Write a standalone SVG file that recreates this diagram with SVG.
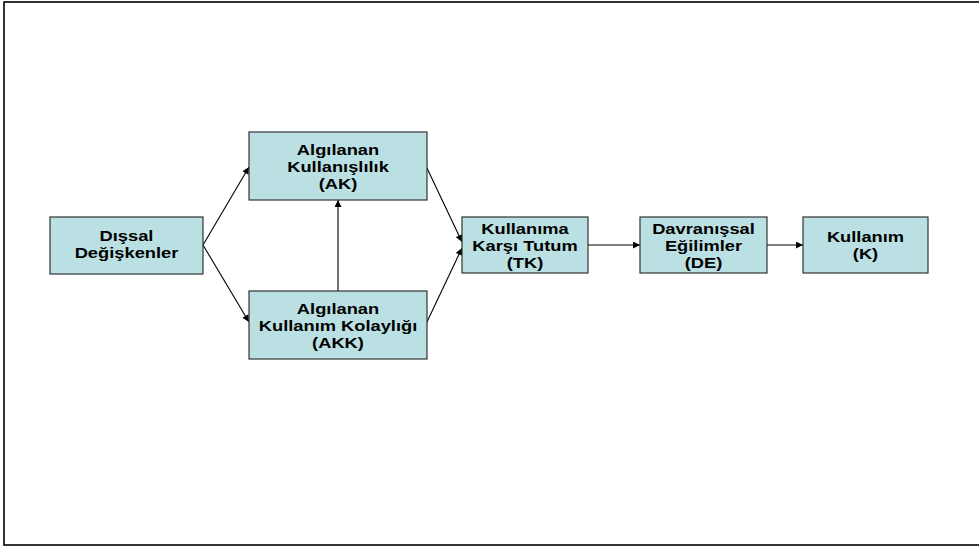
<svg xmlns="http://www.w3.org/2000/svg" width="979" height="546" viewBox="0 0 979 546">
<defs>
<style>
.box{fill:#BBE0E3;stroke:#333;stroke-width:1.2}
.lbl{font-family:"Liberation Sans",Arial,sans-serif;font-weight:bold;font-size:15px;fill:#000;text-anchor:middle}
.conn{stroke:#000;stroke-width:1.1;fill:none;marker-end:url(#ah)}
</style>
<marker id="ah" viewBox="0 0 10 10" refX="10" refY="5" markerUnits="userSpaceOnUse" markerWidth="8" markerHeight="7" orient="auto">
<path d="M0,0 L10,5 L0,10 Z" fill="#000"/>
</marker>
</defs>
<rect x="0" y="0" width="979" height="546" fill="#fff"/>
<rect x="4" y="2" width="990" height="543" fill="none" stroke="#000" stroke-width="1.6"/>
<g id="connectors">
<line class="conn" x1="203" y1="245" x2="249" y2="167"/>
<line class="conn" x1="203" y1="245" x2="249" y2="322"/>
<line class="conn" x1="338" y1="291" x2="338" y2="200"/>
<line class="conn" x1="426" y1="166" x2="462" y2="242"/>
<line class="conn" x1="426" y1="324" x2="462" y2="248"/>
<line class="conn" x1="588" y1="245" x2="640" y2="245"/>
<line class="conn" x1="767" y1="245" x2="803" y2="245"/>
</g>
<g id="node-dissal">
<rect class="box" x="50" y="217" width="153" height="57"/>
<text class="lbl" transform="translate(126.5,0) scale(1.22,1)"><tspan x="0" y="241.5">Dışsal</tspan><tspan x="0" y="258.5">Değişkenler</tspan></text>
</g>
<g id="node-ak">
<rect class="box" x="249" y="132" width="178" height="68"/>
<text class="lbl" transform="translate(338,0) scale(1.22,1)"><tspan x="0" y="155.5">Algılanan</tspan><tspan x="0" y="172.5">Kullanışlılık</tspan><tspan x="0" y="189.5">(AK)</tspan></text>
</g>
<g id="node-akk">
<rect class="box" x="249" y="291" width="178" height="68"/>
<text class="lbl" transform="translate(338,0) scale(1.22,1)"><tspan x="0" y="314">Algılanan</tspan><tspan x="0" y="331">Kullanım Kolaylığı</tspan><tspan x="0" y="348">(AKK)</tspan></text>
</g>
<g id="node-tk">
<rect class="box" x="462" y="217" width="126" height="56"/>
<text class="lbl" transform="translate(525,0) scale(1.22,1)"><tspan x="0" y="234">Kullanıma</tspan><tspan x="0" y="251">Karşı Tutum</tspan><tspan x="0" y="268">(TK)</tspan></text>
</g>
<g id="node-de">
<rect class="box" x="640" y="217" width="127" height="56"/>
<text class="lbl" transform="translate(703.5,0) scale(1.22,1)"><tspan x="0" y="234">Davranışsal</tspan><tspan x="0" y="251">Eğilimler</tspan><tspan x="0" y="268">(DE)</tspan></text>
</g>
<g id="node-k">
<rect class="box" x="803" y="217" width="125" height="56"/>
<text class="lbl" transform="translate(865.5,0) scale(1.22,1)"><tspan x="0" y="242.5">Kullanım</tspan><tspan x="0" y="259.5">(K)</tspan></text>
</g>
</svg>
